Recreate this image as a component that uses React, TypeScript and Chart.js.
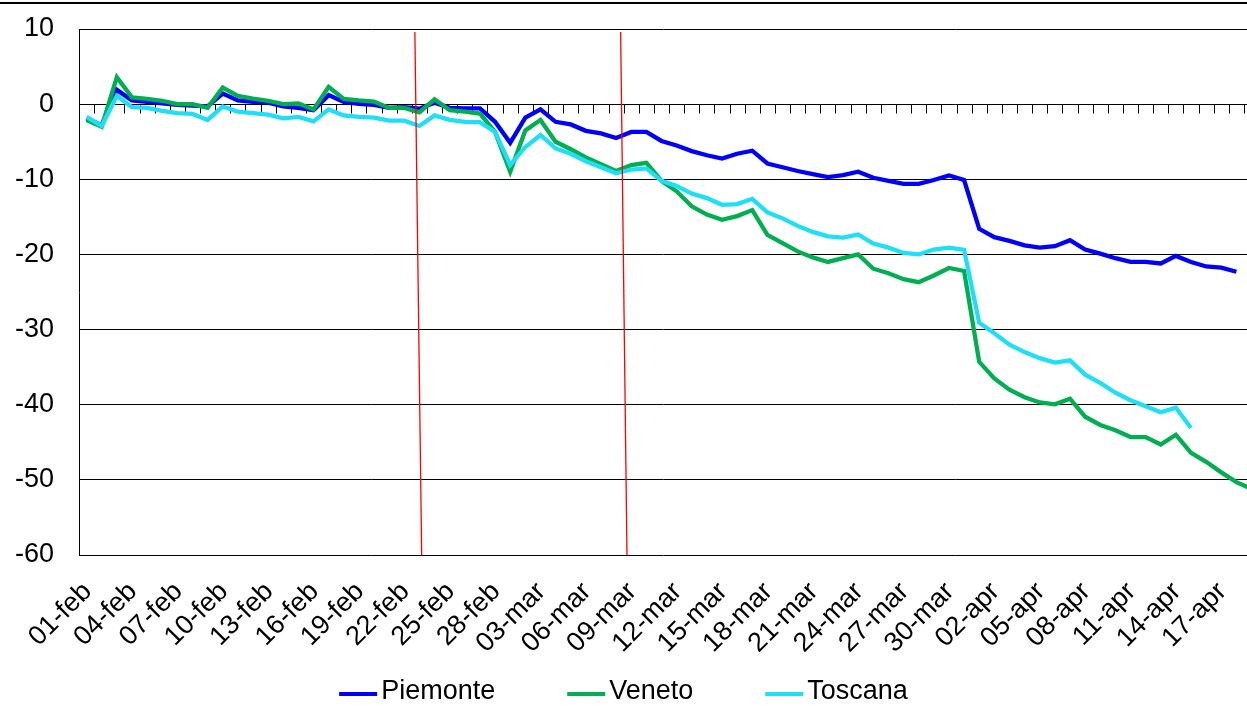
import React, { useEffect, useRef } from 'react';
import { Chart, registerables } from 'chart.js';

Chart.register(...registerables);

// ---- data -------------------------------------------------------------
const dates = [
  '01-feb', '02-feb', '03-feb', '04-feb', '05-feb', '06-feb', '07-feb', '08-feb', '09-feb', '10-feb',
  '11-feb', '12-feb', '13-feb', '14-feb', '15-feb', '16-feb', '17-feb', '18-feb', '19-feb', '20-feb',
  '21-feb', '22-feb', '23-feb', '24-feb', '25-feb', '26-feb', '27-feb', '28-feb',
  '01-mar', '02-mar', '03-mar', '04-mar', '05-mar', '06-mar', '07-mar', '08-mar', '09-mar', '10-mar',
  '11-mar', '12-mar', '13-mar', '14-mar', '15-mar', '16-mar', '17-mar', '18-mar', '19-mar', '20-mar',
  '21-mar', '22-mar', '23-mar', '24-mar', '25-mar', '26-mar', '27-mar', '28-mar', '29-mar', '30-mar', '31-mar',
  '01-apr', '02-apr', '03-apr', '04-apr', '05-apr', '06-apr', '07-apr', '08-apr', '09-apr', '10-apr',
  '11-apr', '12-apr', '13-apr', '14-apr', '15-apr', '16-apr', '17-apr', '18-apr', '19-apr',
];

const tickLabels = [
  '01-feb', '04-feb', '07-feb', '10-feb', '13-feb', '16-feb', '19-feb', '22-feb', '25-feb', '28-feb',
  '03-mar', '06-mar', '09-mar', '12-mar', '15-mar', '18-mar', '21-mar', '24-mar', '27-mar', '30-mar',
  '02-apr', '05-apr', '08-apr', '11-apr', '14-apr', '17-apr',
];

const piemonte = [
  -1.9, -2.8, 1.9, 0.5, 0.3, 0.1, -0.1, -0.2, -0.3, 1.4,
  0.5, 0.3, 0.2, -0.3, -0.5, -0.8, 1.2, 0.3, 0.05, -0.1,
  -0.5, -0.4, -0.6, 0.2, -0.5, -0.55, -0.55, -2.35, -5.15, -1.8,
  -0.7, -2.35, -2.7, -3.55, -3.9, -4.5, -3.7, -3.7, -4.9, -5.5,
  -6.25, -6.8, -7.25, -6.6, -6.2, -7.9, -8.4, -8.9, -9.3, -9.7,
  -9.45, -9.0, -9.8, -10.2, -10.6, -10.6, -10.1, -9.5, -10.1, -16.6,
  -17.7, -18.2, -18.8, -19.1, -18.9, -18.1, -19.35, -19.9, -20.5, -21.0,
  -21.0, -21.2, -20.2, -21.0, -21.6, -21.75, -22.3,
];

const veneto = [
  -2.1, -3.0, 3.6, 0.9, 0.7, 0.45, 0.0, 0.0, -0.5, 2.2,
  1.1, 0.75, 0.45, 0.0, 0.1, -0.7, 2.3, 0.7, 0.5, 0.35,
  -0.5, -0.5, -1.1, 0.65, -0.8, -1.0, -1.25, -3.7, -9.0, -3.5,
  -2.1, -5.0, -6.0, -7.1, -8.0, -8.9, -8.1, -7.8, -10.2, -11.6,
  -13.6, -14.7, -15.4, -14.9, -14.1, -17.4, -18.5, -19.6, -20.4, -21.0,
  -20.5, -20.0, -21.9, -22.5, -23.3, -23.7, -22.8, -21.8, -22.2, -34.3,
  -36.5, -38.0, -39.0, -39.7, -39.95, -39.2, -41.6, -42.7, -43.4, -44.3,
  -44.3, -45.3, -44.0, -46.4, -47.6, -49.0, -50.3, -51.2,
];

const toscana = [
  -1.7, -2.9, 1.1, -0.4, -0.5, -0.9, -1.2, -1.3, -2.1, -0.3,
  -1.0, -1.2, -1.4, -1.9, -1.7, -2.3, -0.7, -1.5, -1.7, -1.8,
  -2.2, -2.2, -2.9, -1.5, -2.1, -2.35, -2.4, -3.7, -8.1, -5.7,
  -4.1, -5.9, -6.6, -7.6, -8.4, -9.2, -8.7, -8.55, -10.2, -10.9,
  -11.9, -12.5, -13.4, -13.3, -12.6, -14.4, -15.2, -16.2, -17.0, -17.6,
  -17.75, -17.35, -18.55, -19.1, -19.8, -20.0, -19.35, -19.1, -19.4, -29.1,
  -30.5, -32.0, -33.0, -33.8, -34.4, -34.1, -36.0, -37.1, -38.4, -39.4,
  -40.2, -41.0, -40.4, -43.1,
];

const seriesNames = ['Piemonte', 'Veneto', 'Toscana'];
const seriesColors = ['#0000FF', '#00B050', '#1EDFF8'];

const yMin = -60;
const yMax = 10;
const yStep = 10;

// red vertical markers (category positions at the top and bottom of the plot)
const markerTop = [21.7, 35.3];
const markerBottom = [22.15, 35.72];

// ---- styling ----------------------------------------------------------
const FONT = '"Liberation Sans", Arial, Helvetica, sans-serif';
const W = 1247;
const H = 706;

const decorPlugin = {
  id: 'decor',
  beforeDraw(chart: any) {
    const { ctx } = chart;
    ctx.save();
    ctx.fillStyle = '#000';
    ctx.fillRect(0, 2, chart.width, 2);
    ctx.restore();
  },
  beforeDatasetsDraw(chart: any) {
    const { ctx, chartArea } = chart;
    const xs = chart.scales.x;
    const ys = chart.scales.y;
    const y0 = Math.round(ys.getPixelForValue(0)) + 0.5;
    ctx.save();
    ctx.strokeStyle = '#000';
    ctx.lineWidth = 1;
    ctx.beginPath();
    for (let k = 0; k < dates.length; k++) {
      const px = Math.round(xs.getPixelForValue(k + 0.5)) + 0.5;
      if (px > chartArea.right) break;
      ctx.moveTo(px, y0);
      ctx.lineTo(px, y0 + 9);
    }
    ctx.stroke();
    ctx.restore();
  },
  afterDatasetsDraw(chart: any) {
    const { ctx } = chart;
    const xs = chart.scales.x;
    const ys = chart.scales.y;
    ctx.save();
    ctx.strokeStyle = '#FF0000';
    ctx.lineWidth = 1.3;
    for (let i = 0; i < markerTop.length; i++) {
      ctx.beginPath();
      ctx.moveTo(xs.getPixelForValue(markerTop[i]), ys.getPixelForValue(yMax) + 3);
      ctx.lineTo(xs.getPixelForValue(markerBottom[i]), ys.getPixelForValue(yMin));
      ctx.stroke();
    }
    ctx.restore();
  },
  afterDraw(chart: any) {
    const { ctx } = chart;
    const lineLen = 38;
    const textGap = 4;
    const itemGap = 72;
    const fontSize = 27;
    ctx.save();
    ctx.font = `${fontSize}px ${FONT}`;
    const widths = seriesNames.map((n) => lineLen + textGap + ctx.measureText(n).width);
    const total = widths.reduce((a, b) => a + b, 0) + itemGap * (widths.length - 1);
    let x = (W - total) / 2;
    const yText = 699;
    const yLine = 694;
    for (let i = 0; i < seriesNames.length; i++) {
      ctx.strokeStyle = seriesColors[i];
      ctx.lineWidth = 4;
      ctx.beginPath();
      ctx.moveTo(x, yLine);
      ctx.lineTo(x + lineLen, yLine);
      ctx.stroke();
      ctx.fillStyle = '#000';
      ctx.textBaseline = 'alphabetic';
      ctx.textAlign = 'left';
      ctx.fillText(seriesNames[i], x + lineLen + textGap, yText);
      x += widths[i] + itemGap;
    }
    ctx.restore();
  },
};

export default function App() {
  const canvasRef = useRef<HTMLCanvasElement | null>(null);

  useEffect(() => {
    if (!canvasRef.current) return;
    const all = [piemonte, veneto, toscana];
    const chart = new Chart(canvasRef.current, {
      type: 'line',
      data: {
        datasets: all.map((vals, i) => ({
          label: seriesNames[i],
          data: vals.map((v, idx) => ({ x: idx, y: v })),
          borderColor: seriesColors[i],
          backgroundColor: seriesColors[i],
          borderWidth: 4.3,
          pointRadius: 0,
          pointHoverRadius: 0,
          tension: 0,
          fill: false,
          order: all.length - i,
        })),
      },
      options: {
        responsive: false,
        animation: false,
        layout: { padding: { top: 29, left: 0, right: 0, bottom: 0 } },
        plugins: {
          legend: { display: false },
          tooltip: { enabled: false },
          title: { display: false },
        },
        scales: {
          x: {
            type: 'linear',
            min: -0.5,
            max: 76.7,
            grid: { display: false },
            border: { display: false },
            afterBuildTicks: (scale: any) => {
              scale.ticks = tickLabels.map((l) => ({ value: dates.indexOf(l) }));
            },
            afterFit: (scale: any) => {
              scale.height = 151;
              scale.paddingLeft = 0;
              scale.paddingRight = 0;
              scale.paddingTop = 0;
              scale.paddingBottom = 0;
            },
            ticks: {
              autoSkip: false,
              minRotation: 45,
              maxRotation: 45,
              padding: 13,
              labelOffset: 1,
              color: '#000',
              font: { family: FONT, size: 27 },
              callback: (v: any) => dates[Math.round(Number(v))] ?? '',
            },
          },
          y: {
            min: yMin,
            max: yMax,
            grid: { color: '#000', lineWidth: 1, drawTicks: false },
            border: { display: true, color: '#000', width: 1 },
            afterFit: (scale: any) => {
              scale.width = 79;
              scale.paddingTop = 0;
              scale.paddingBottom = 0;
              scale.paddingLeft = 0;
              scale.paddingRight = 0;
            },
            ticks: {
              stepSize: yStep,
              padding: 25,
              color: '#000',
              font: { family: FONT, size: 27 },
            },
          },
        },
      },
      plugins: [decorPlugin],
    });
    return () => chart.destroy();
  }, []);

  return (
    <div style={{ position: 'absolute', left: 0, top: 0, width: W, height: H, overflow: 'hidden', background: '#fff' }}>
      <canvas ref={canvasRef} width={W} height={H} style={{ display: 'block' }} />
    </div>
  );
}
